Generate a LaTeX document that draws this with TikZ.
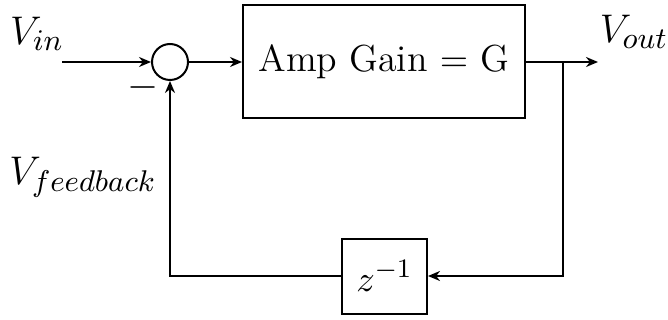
\documentclass[tikz,border=0pt]{standalone}
\usetikzlibrary{arrows.meta}
\begin{document}
\begin{tikzpicture}[x=0.3pt,y=-0.3pt, line width=0.6pt,
  >={Stealth[length=3.6pt,width=3pt]},
  every node/.style={font=\fontsize{11.3}{13.5}\selectfont},
  lbl/.style={font=\fontsize{12.3}{14.5}\selectfont},
  block/.style={draw, inner sep=0pt},
  sumnode/.style={draw, circle, minimum size=10.8pt, inner sep=0pt}]
\useasboundingbox (0,0) rectangle (668,320);
\node[sumnode] (sum) at (170,62) {};
\node[block, minimum width=84.6pt, minimum height=33.9pt] (amp) at (384,62) {Amp Gain $=$ G};
\node[block, minimum width=25.5pt, minimum height=22.5pt] (dly) at (384.5,276) {$z^{-1}$};
\node[lbl] (vin) at (37,34) {$V_{in}$};
\node[lbl] (vout) at (634,32) {$V_{out}$};
\node[lbl] (vfb) at (83,177) {$V_{feedback}$};
\node[lbl] (minus) at (143,88) {$-$};
\coordinate (inS) at (62,62);
\coordinate (outE) at (598,62);
\coordinate (br) at (563,62);
\coordinate (brD) at (563,276);
\coordinate (fbC) at (170,276);
\draw[->] (inS) -- (sum.west);
\draw[->] (sum.east) -- (amp.west);
\draw[->] (amp.east) -- (outE);
\draw[->] (br) -- (brD) -- (dly.east);
\draw[->] (dly.west) -- (fbC) -- (sum.south);
\end{tikzpicture}
\end{document}
